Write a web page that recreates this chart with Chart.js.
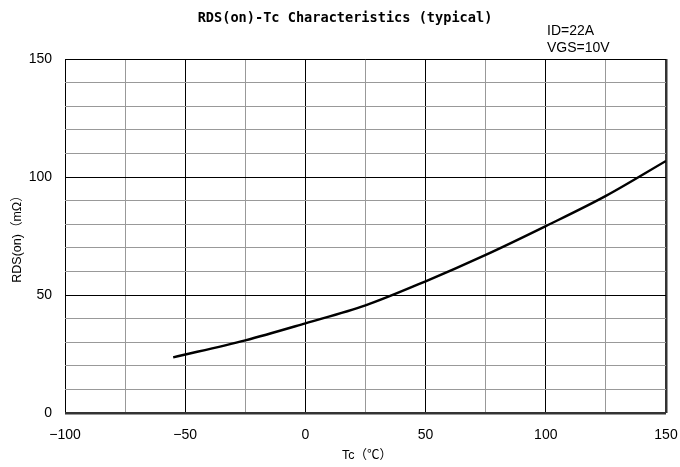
<!DOCTYPE html>
<html>
<head>
<meta charset="utf-8">
<script src="https://cdn.jsdelivr.net/npm/chart.js@4.4.1/dist/chart.umd.min.js"></script>
<style>
  html, body { margin: 0; padding: 0; background: #fff; }
  #wrap { width: 680px; height: 467px; position: relative; }
</style>
</head>
<body>
<div id="wrap"><canvas id="c"></canvas></div>
<script>
// RDS(on) vs case temperature
const tempC = [-55, -25, 0, 25, 50, 75, 100, 125, 150];
const rdsOn = [23.6, 30.8, 38.0, 45.6, 55.8, 67.0, 79.2, 92.0, 106.8];

const xTicks = [-100, -75, -50, -25, 0, 25, 50, 75, 100, 125, 150];
const yTicks = [0, 10, 20, 30, 40, 50, 60, 70, 80, 90, 100, 110, 120, 130, 140, 150];

const titleText = 'RDS(on)-Tc Characteristics (typical)';
const condLines = ['ID=22A', 'VGS=10V'];
const xTitle = 'Tc（℃）';
const yTitle = 'RDS(on)（mΩ）';

const tickFont = { family: '"Liberation Sans", Arial, sans-serif', size: 14 };

// title, conditions and axis titles
const textPlugin = {
  id: 'texts',
  afterDraw(chart) {
    const { ctx, chartArea: a } = chart;
    ctx.save();
    ctx.fillStyle = '#000';
    ctx.textBaseline = 'middle';

    ctx.font = 'bold 13.6px "DejaVu Sans Mono", monospace';
    ctx.textAlign = 'center';
    ctx.fillText(titleText, 345, 18);

    ctx.font = '14px "Liberation Sans", Arial, sans-serif';
    ctx.textAlign = 'left';
    ctx.fillText(condLines[0], 547, 31);
    ctx.fillText(condLines[1], 547, 48);

    ctx.font = '12.5px "Liberation Sans", "Noto Sans CJK JP", sans-serif';
    ctx.textAlign = 'center';
    ctx.fillText(xTitle, 367, 456);

    ctx.translate(18, (a.top + a.bottom) / 2);
    ctx.rotate(-Math.PI / 2);
    ctx.fillText(yTitle, 0, 0);
    ctx.restore();
  }
};

new Chart(document.getElementById('c'), {
  type: 'scatter',
  data: {
    datasets: [{
      data: tempC.map((t, i) => ({ x: t, y: rdsOn[i] })),
      showLine: true,
      borderColor: '#000',
      borderWidth: 2.4,
      pointRadius: 0,
      cubicInterpolationMode: 'monotone'
    }]
  },
  options: {
    responsive: true,
    maintainAspectRatio: false,
    animation: false,
    layout: { padding: { top: 59, right: 14, left: 0, bottom: 0 } },
    plugins: { legend: { display: false }, tooltip: { enabled: false } },
    scales: {
      x: {
        type: 'linear',
        min: -100, max: 150,
        afterBuildTicks: s => { s.ticks = xTicks.map(v => ({ value: v })); },
        afterFit: s => { s.height = 54; s.paddingLeft = 0; s.paddingRight = 0; },
        border: { display: false },
        grid: {
          drawTicks: false,
          color: c => c.tick.value === 150 ? '#333' : (c.tick.value % 50 === 0 ? '#000' : '#999'),
          lineWidth: c => c.tick.value === 150 ? 2.5 : 1
        },
        ticks: {
          color: '#000', font: tickFont, padding: 14, maxRotation: 0,
          callback: v => v % 50 === 0 ? String(v).replace('-', '−') : ''
        }
      },
      y: {
        type: 'linear',
        min: 0, max: 150,
        afterBuildTicks: s => { s.ticks = yTicks.map(v => ({ value: v })); },
        afterFit: s => { s.width = 65; s.paddingTop = 0; s.paddingBottom = 0; },
        border: { display: false },
        grid: {
          drawTicks: false,
          color: c => c.tick.value === 0 ? '#333' : (c.tick.value % 50 === 0 ? '#000' : '#999'),
          lineWidth: c => c.tick.value === 0 ? 2.5 : 1
        },
        ticks: {
          color: '#000', font: tickFont, padding: 13,
          callback: v => v % 50 === 0 ? String(v) : ''
        }
      }
    }
  },
  plugins: [textPlugin]
});
</script>
</body>
</html>
